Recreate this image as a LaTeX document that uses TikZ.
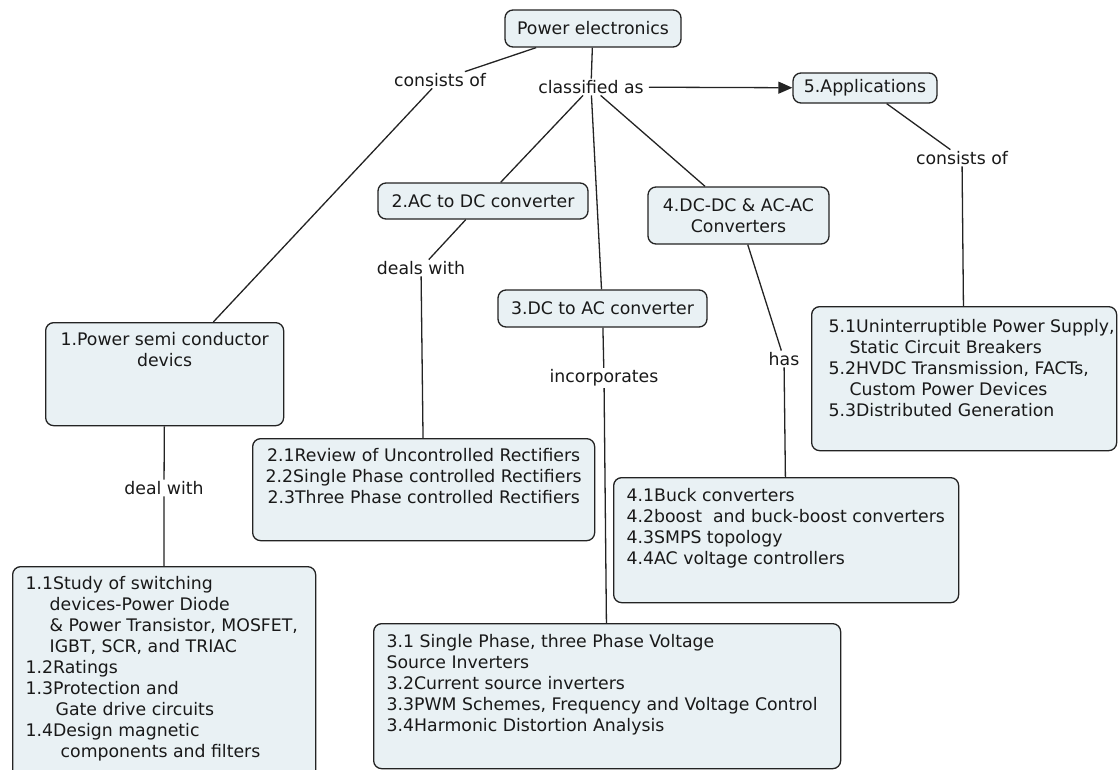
\documentclass[tikz,border=0pt]{standalone}
\usepackage{fontspec}
\setmainfont{DejaVu Sans}
\usetikzlibrary{arrows.meta}
\definecolor{boxfill}{RGB}{233,241,244}
\definecolor{edge}{RGB}{35,35,35}
\definecolor{ink}{RGB}{25,25,25}
\newcommand{\boxtxt}[3]{\parbox[t][#2][t]{#1}{#3}}
\hfuzz=20pt
\begin{document}
\begin{tikzpicture}[x=1pt,y=-1pt,
  font=\fontsize{17.3}{21}\selectfont, text=ink,
  box/.style={draw=edge, line width=1.3pt, rounded corners=8pt, fill=boxfill, inner sep=0pt},
  lab/.style={inner xsep=5pt, inner ysep=1.5pt},
  conn/.style={draw=edge, line width=1.3pt}]
\useasboundingbox (0,0) rectangle (1118,769);

% single-line / small concept boxes
\node[box, minimum width=176pt, minimum height=37pt] (pe) at (593,28.5) {Power electronics};
\node[box, minimum width=144pt, minimum height=30pt] (app) at (865,88) {5.Applications};
\node[box, minimum width=210pt, minimum height=36pt] (b2) at (483,201) {2.AC to DC converter};
\node[box, minimum width=209pt, minimum height=37pt] (b3) at (602.5,308.5) {3.DC to AC converter};
\node[box, minimum width=181pt, minimum height=57pt, align=center] (b4) at (738.5,215.5) {4.DC-DC \& AC-AC\\Converters};

% large boxes
\node[box, anchor=north west, inner xsep=4pt, inner ysep=8.5pt] (b1) at (45,322)
  {\boxtxt{230pt}{86pt}{\centering\strut 1.Power semi conductor\\devics}};
\node[box, anchor=north west, inner xsep=4pt, inner ysep=7.7pt] (b1x) at (12,566)
  {\boxtxt{295pt}{220pt}{\raggedright\leftskip=9pt\relax\strut 1.1Study of switching\\
   \hspace*{24pt}devices-Power Diode\\
   \hspace*{24pt}\& Power Transistor, MOSFET,\\
   \hspace*{24pt}IGBT, SCR, and TRIAC\\
   1.2Ratings\\
   1.3Protection and\\
   \hspace*{30pt}Gate drive circuits\\
   1.4Design magnetic\\
   \hspace*{35pt}components and filters}};
\node[box, anchor=north west, inner xsep=4pt, inner ysep=7.7pt] (b2x) at (252,438)
  {\boxtxt{334pt}{86.6pt}{\centering\strut 2.1Review of Uncontrolled Rectifiers\\
   2.2Single Phase controlled Rectifiers\\
   2.3Three Phase controlled Rectifiers}};
\node[box, anchor=north west, inner xsep=4pt, inner ysep=8.7pt] (b3x) at (373,623)
  {\boxtxt{459pt}{127.6pt}{\raggedright\leftskip=9pt\relax\strut 3.1 Single Phase, three Phase Voltage\\
   Source Inverters\\
   3.2Current source inverters\\
   3.3PWM Schemes, Frequency and Voltage Control\\
   3.4Harmonic Distortion Analysis}};
\node[box, anchor=north west, inner xsep=4pt, inner ysep=8.7pt] (b4x) at (613,477)
  {\boxtxt{337pt}{107.6pt}{\raggedright\leftskip=9pt\relax\strut 4.1Buck converters\\
   4.2boost\ \ and buck-boost converters\\
   4.3SMPS topology\\
   4.4AC voltage controllers}};
\node[box, anchor=north west, inner xsep=2pt, inner ysep=10.7pt] (b5) at (811,306)
  {\boxtxt{301pt}{122.6pt}{\raggedright\leftskip=15pt\relax\strut \mbox{5.1Uninterruptible Power Supply,}\\
   \hspace*{21pt}Static Circuit Breakers\\
   5.2HVDC Transmission, FACTs,\\
   \hspace*{21pt}Custom Power Devices\\
   5.3Distributed Generation}};

% linking phrases
\node[lab] (cons1) at (440,80) {consists of};
\node[lab] (cls) at (591,87) {classified as};
\node[lab] (cons2) at (962,158) {consists of};
\node[lab] (deals) at (421,268) {deals with};
\node[lab] (incorp) at (604,378) {incorporates};
\node[lab] (has) at (784,359) {has};
\node[lab] (deal) at (164,488) {deal with};

% connectors
\draw[conn] (pe) -- (cons1);
\draw[conn] (cons1) -- (b1);
\draw[conn] (pe) -- (cls);
\draw[conn] (cls) -- (b2);
\draw[conn] (cls) -- (b3);
\draw[conn] (cls) -- (b4);
\draw[conn, -{Triangle[length=14pt,width=12pt]}] (cls) -- (app);
\draw[conn] (app) -- (cons2);
\draw[conn] (cons2) -- (b5);
\draw[conn] (b2) -- (deals);
\draw[conn] (deals) -- (b2x);
\draw[conn] (b3) -- (incorp);
\draw[conn] (incorp) -- (b3x);
\draw[conn] (b4) -- (has);
\draw[conn] (has) -- (b4x);
\draw[conn] (b1) -- (deal);
\draw[conn] (deal) -- (b1x);
\end{tikzpicture}
\end{document}
